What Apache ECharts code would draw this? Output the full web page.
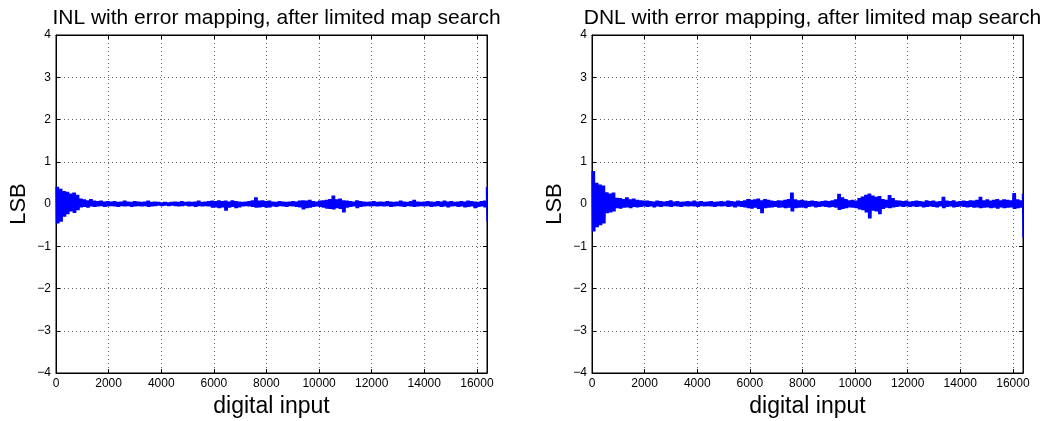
<!DOCTYPE html>
<html>
<head>
<meta charset="utf-8">
<script src="https://cdn.jsdelivr.net/npm/echarts@6/dist/echarts.min.js"></script>
<style>
  html, body { margin: 0; padding: 0; background: #fff; }
  #chart { width: 1051px; height: 421px; }
</style>
</head>
<body>
<div id="chart"></div>
<script>
// Envelope of the error curves, one upper/lower pair per block of 128 codes
// (codes 0, 128, ..., 16384), values in LSB.
const CODE_STEP = 128;
const CODE_MAX = 16384;

const inlHi = [
  0.41, 0.36, 0.31, 0.29, 0.25, 0.27, 0.22, 0.13, 0.11, 0.09, 0.12, 0.08, 0.07, 0.08, 0.06, 0.07,
  0.06, 0.07, 0.05, 0.06, 0.08, 0.06, 0.05, 0.07, 0.06, 0.05, 0.06, 0.08, 0.05, 0.06, 0.05, 0.04,
  0.05, 0.04, 0.05, 0.06, 0.05, 0.07, 0.05, 0.06, 0.05, 0.06, 0.08, 0.05, 0.06, 0.07, 0.08, 0.07,
  0.09, 0.07, 0.08, 0.06, 0.09, 0.07, 0.06, 0.05, 0.06, 0.07, 0.09, 0.16, 0.08, 0.09, 0.07, 0.08,
  0.06, 0.05, 0.07, 0.06, 0.05, 0.06, 0.07, 0.06, 0.08, 0.09, 0.08, 0.10, 0.07, 0.06, 0.08, 0.09,
  0.10, 0.12, 0.20, 0.11, 0.13, 0.09, 0.08, 0.07, 0.06, 0.09, 0.07, 0.06, 0.05, 0.06, 0.07, 0.05,
  0.06, 0.05, 0.07, 0.06, 0.05, 0.06, 0.08, 0.06, 0.05, 0.07, 0.10, 0.06, 0.05, 0.06, 0.07, 0.06,
  0.05, 0.07, 0.06, 0.08, 0.06, 0.07, 0.05, 0.06, 0.07, 0.06, 0.08, 0.07, 0.06, 0.05, 0.07, 0.08,
  0.40
];
const inlLo = [
  -0.46, -0.42, -0.30, -0.24, -0.18, -0.21, -0.15, -0.08, -0.07, -0.09, -0.06, -0.07, -0.06, -0.05, -0.07, -0.06,
  -0.05, -0.06, -0.07, -0.05, -0.06, -0.05, -0.07, -0.06, -0.05, -0.06, -0.05, -0.07, -0.06, -0.05, -0.04, -0.05,
  -0.04, -0.05, -0.04, -0.05, -0.06, -0.05, -0.04, -0.06, -0.05, -0.07, -0.05, -0.06, -0.05, -0.06, -0.09, -0.08,
  -0.10, -0.08, -0.16, -0.09, -0.07, -0.10, -0.08, -0.06, -0.05, -0.06, -0.07, -0.09, -0.08, -0.07, -0.09, -0.08,
  -0.06, -0.07, -0.05, -0.06, -0.07, -0.05, -0.06, -0.07, -0.08, -0.13, -0.10, -0.09, -0.07, -0.06, -0.07, -0.09,
  -0.11, -0.12, -0.13, -0.10, -0.12, -0.20, -0.09, -0.07, -0.06, -0.10, -0.07, -0.06, -0.05, -0.06, -0.05, -0.06,
  -0.05, -0.06, -0.05, -0.07, -0.06, -0.05, -0.06, -0.07, -0.05, -0.06, -0.07, -0.06, -0.05, -0.06, -0.05, -0.07,
  -0.06, -0.05, -0.07, -0.06, -0.08, -0.06, -0.05, -0.07, -0.06, -0.08, -0.07, -0.06, -0.10, -0.07, -0.06, -0.08,
  -0.42
];
const dnlHi = [
  0.78, 0.50, 0.46, 0.44, 0.28, 0.25, 0.27, 0.15, 0.14, 0.12, 0.16, 0.11, 0.13, 0.10, 0.09, 0.08,
  0.08, 0.07, 0.06, 0.08, 0.07, 0.06, 0.07, 0.09, 0.06, 0.07, 0.05, 0.06, 0.07, 0.06, 0.08, 0.06,
  0.07, 0.05, 0.06, 0.07, 0.05, 0.06, 0.07, 0.06, 0.08, 0.07, 0.06, 0.08, 0.07, 0.09, 0.12, 0.10,
  0.11, 0.13, 0.09, 0.12, 0.10, 0.08, 0.07, 0.09, 0.08, 0.10, 0.12, 0.27, 0.11, 0.09, 0.10, 0.08,
  0.07, 0.08, 0.07, 0.06, 0.07, 0.08, 0.07, 0.09, 0.11, 0.24, 0.16, 0.12, 0.09, 0.10, 0.08, 0.14,
  0.18, 0.22, 0.25, 0.20, 0.17, 0.19, 0.12, 0.10, 0.21, 0.14, 0.09, 0.08, 0.07, 0.08, 0.06, 0.07,
  0.08, 0.07, 0.06, 0.09, 0.07, 0.08, 0.06, 0.07, 0.17, 0.08, 0.07, 0.09, 0.06, 0.07, 0.08, 0.07,
  0.09, 0.08, 0.10, 0.17, 0.09, 0.11, 0.08, 0.10, 0.12, 0.09, 0.11, 0.10, 0.09, 0.26, 0.11, 0.09,
  0.24
];
const dnlLo = [
  -0.65, -0.55, -0.50, -0.46, -0.22, -0.20, -0.18, -0.10, -0.11, -0.09, -0.08, -0.10, -0.07, -0.08, -0.07, -0.06,
  -0.07, -0.06, -0.08, -0.06, -0.07, -0.05, -0.06, -0.07, -0.05, -0.06, -0.07, -0.05, -0.06, -0.05, -0.06, -0.07,
  -0.05, -0.06, -0.05, -0.06, -0.07, -0.05, -0.06, -0.05, -0.07, -0.06, -0.08, -0.06, -0.07, -0.08, -0.10, -0.11,
  -0.09, -0.12, -0.22, -0.10, -0.09, -0.08, -0.07, -0.09, -0.08, -0.10, -0.09, -0.18, -0.10, -0.09, -0.08, -0.10,
  -0.07, -0.06, -0.08, -0.07, -0.06, -0.07, -0.08, -0.07, -0.09, -0.14, -0.12, -0.10, -0.08, -0.09, -0.10, -0.13,
  -0.15, -0.20, -0.34, -0.16, -0.18, -0.24, -0.12, -0.09, -0.10, -0.08, -0.07, -0.06, -0.07, -0.06, -0.07, -0.06,
  -0.07, -0.06, -0.08, -0.07, -0.06, -0.07, -0.08, -0.06, -0.10, -0.07, -0.06, -0.08, -0.07, -0.06, -0.07, -0.08,
  -0.07, -0.09, -0.08, -0.10, -0.09, -0.08, -0.10, -0.09, -0.11, -0.08, -0.10, -0.09, -0.08, -0.12, -0.10, -0.09,
  -0.80
];

const titles = [
  'INL with error mapping, after limited map search',
  'DNL with error mapping, after limited map search'
];
const xTitle = 'digital input';
const yTitle = 'LSB';

// Turn an upper/lower envelope into a dense zig-zag trace across each block.
const ZIGS_PER_BLOCK = 8;
function zigzag(hi, lo) {
  const pts = [];
  const last = hi.length - 1;
  for (let i = 0; i < last; i++) {
    const c = i * CODE_STEP;
    for (let k = 0; k < ZIGS_PER_BLOCK; k++) {
      const off = k * (CODE_STEP / ZIGS_PER_BLOCK);
      pts.push([c + off, k % 2 === 0 ? hi[i] : lo[i]]);
    }
  }
  pts.push([CODE_MAX - 24, hi[last]]);
  pts.push([CODE_MAX - 1, lo[last]]);
  return pts;
}

const FONT = "'Liberation Sans', Arial, Helvetica, sans-serif";
const gridLine = { show: true, lineStyle: { color: '#666', width: 1, type: [1, 3] } };
const minusFmt = v => String(v).replace('-', '\u2212');
const plainFmt = v => String(v);

const grids = [
  { left: 56, top: 35, width: 431, height: 338 },
  { left: 592, top: 35, width: 431, height: 338 }
];

const xAxes = [], yAxes = [], series = [], titleCfg = [];
grids.forEach((g, gi) => {
  Object.assign(g, { show: true, borderColor: '#000', borderWidth: 1, containLabel: false, outerBoundsMode: 'none' });
  xAxes.push({
    type: 'value', gridIndex: gi, position: 'bottom', min: 0, max: CODE_MAX, interval: 2000,
    name: xTitle, nameLocation: 'middle', nameGap: 21,
    nameTextStyle: { fontFamily: FONT, fontSize: 23, color: '#000', verticalAlign: 'top' },
    axisLine: { show: true, onZero: false, lineStyle: { color: '#000' } },
    axisTick: { show: true, inside: true, length: 4, lineStyle: { color: '#000' } },
    axisLabel: { fontFamily: FONT, fontSize: 12, color: '#000', margin: 5, showMaxLabel: false, formatter: plainFmt },
    splitLine: gridLine
  });
  xAxes.push({
    type: 'value', gridIndex: gi, position: 'top', min: 0, max: CODE_MAX, interval: 2000,
    axisLine: { show: true, onZero: false, lineStyle: { color: '#000' } },
    axisTick: { show: true, inside: true, length: 4, lineStyle: { color: '#000' } },
    axisLabel: { show: false }, splitLine: { show: false }
  });
  yAxes.push({
    type: 'value', gridIndex: gi, position: 'left', min: -4, max: 4, interval: 1,
    name: yTitle, nameLocation: 'middle', nameGap: 26, nameRotate: 90,
    nameTextStyle: { fontFamily: FONT, fontSize: 22, color: '#000' },
    axisLine: { show: true, onZero: false, lineStyle: { color: '#000' } },
    axisTick: { show: true, inside: true, length: 4, lineStyle: { color: '#000' } },
    axisLabel: { fontFamily: FONT, fontSize: 12, color: '#000', margin: 5, formatter: minusFmt },
    splitLine: gridLine
  });
  yAxes.push({
    type: 'value', gridIndex: gi, position: 'right', min: -4, max: 4, interval: 1,
    axisLine: { show: true, onZero: false, lineStyle: { color: '#000' } },
    axisTick: { show: true, inside: true, length: 4, lineStyle: { color: '#000' } },
    axisLabel: { show: false }, splitLine: { show: false }
  });
  titleCfg.push({
    text: titles[gi], left: g.left + g.width / 2, top: 3, textAlign: 'center',
    textStyle: { fontFamily: FONT, fontSize: 21, fontWeight: 'normal', color: '#000' }
  });
});

const envelopes = [[inlHi, inlLo], [dnlHi, dnlLo]];
envelopes.forEach((env, gi) => {
  series.push({
    type: 'line', xAxisIndex: gi * 2, yAxisIndex: gi * 2,
    data: zigzag(env[0], env[1]),
    showSymbol: false, symbol: 'none',
    lineStyle: { color: '#0000ff', width: 1.2 },
    itemStyle: { color: '#0000ff' },
    clip: true, animation: false
  });
});

const chart = echarts.init(document.getElementById('chart'), null, { renderer: 'canvas' });
chart.setOption({
  backgroundColor: '#fff',
  animation: false,
  title: titleCfg,
  grid: grids,
  xAxis: xAxes,
  yAxis: yAxes,
  series: series
});
</script>
</body>
</html>
